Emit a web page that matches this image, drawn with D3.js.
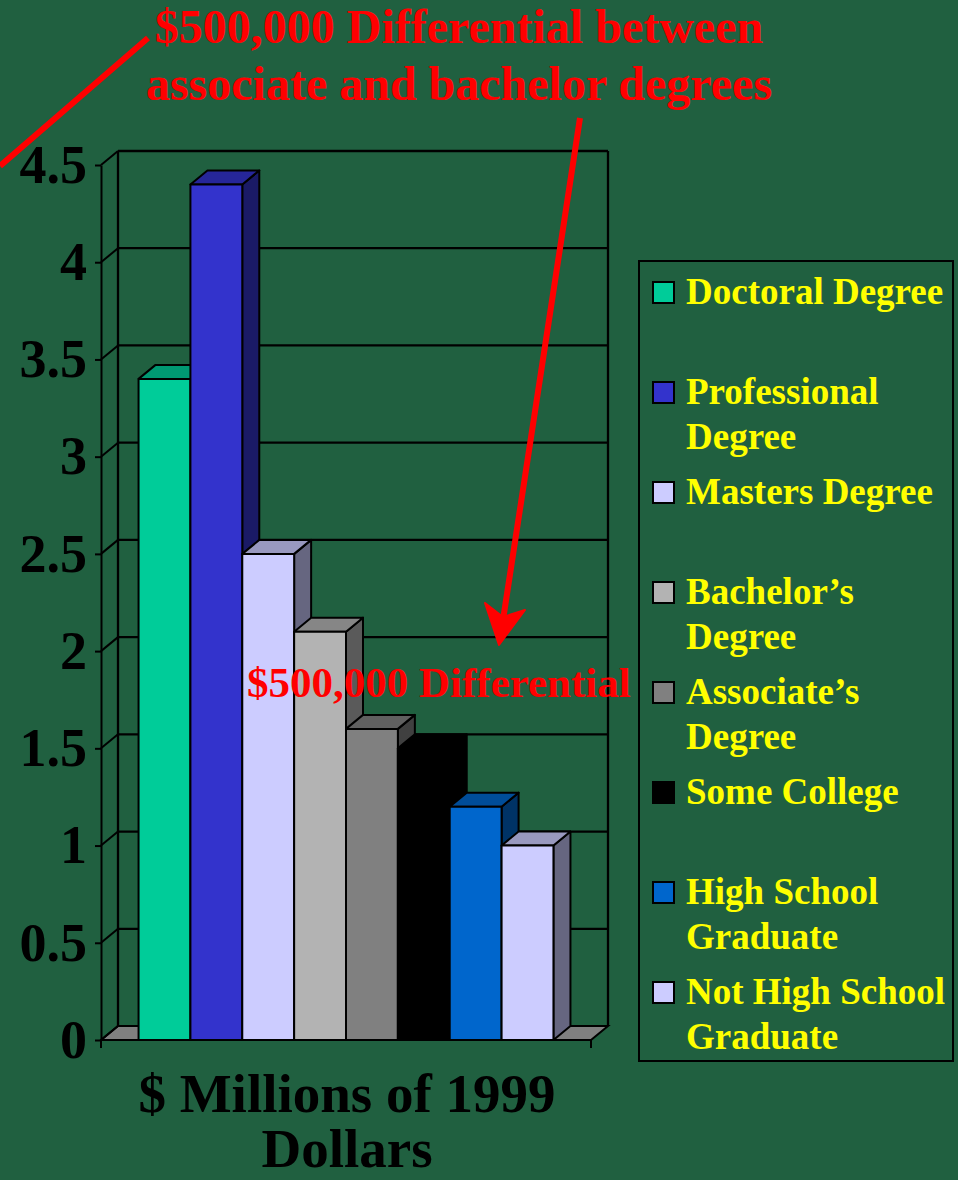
<!DOCTYPE html>
<html>
<head>
<meta charset="utf-8">
<script src="https://cdn.jsdelivr.net/npm/d3@7"></script>
<style>
  body { margin: 0; background: #206040; }
  svg { display: block; font-family: "Liberation Serif", "Times New Roman", serif; font-weight: bold; }
</style>
</head>
<body>
<svg id="chart" width="958" height="1180"></svg>
<script>
// data ($ millions of 1999 dollars)
var group = "$ Millions of 1999 Dollars";
var categories = ["Doctoral Degree", "Professional Degree", "Masters Degree", "Bachelor's Degree",
    "Associate's Degree", "Some College", "High School Graduate", "Not High School Graduate"];
var values = [3.4, 4.4, 2.5, 2.1, 1.6, 1.5, 1.2, 1.0];
var colors = ["#00cc99", "#3333cc", "#ccccff", "#b3b3b3", "#808080", "#000000", "#0066cc", "#ccccff"];
var legendLines = [["Doctoral Degree"], ["Professional", "Degree"], ["Masters Degree"], ["Bachelor\u2019s", "Degree"],
    ["Associate\u2019s", "Degree"], ["Some College"], ["High School", "Graduate"], ["Not High School", "Graduate"]];
var yTicks = [0, 0.5, 1, 1.5, 2, 2.5, 3, 3.5, 4, 4.5];
var titleLines = ["$500,000 Differential between", "associate and bachelor degrees"];
var axisTitle = ["$ Millions of 1999", "Dollars"];

var svg = d3.select("#chart");
var DX = 17, DY = 14; // depth of the 3d box

var y = d3.scaleLinear().domain([0, 4.5]).range([1040, 165]);
var x0 = d3.scaleBand().domain([group]).range([101, 591]).padding(0.083);
var x1 = d3.scaleBand().domain(categories).range([0, x0.bandwidth()]);

var left = x0.range()[0], right = x0.range()[1];
var base = y(0);

// floor
svg.append("path")
    .attr("d", "M" + left + "," + base + "L" + right + "," + base + "L" + (right + DX) + "," + (base - DY) +
        "L" + (left + DX) + "," + (base - DY) + "Z")
    .attr("fill", "#808080")
    .attr("stroke", "#000")
    .attr("stroke-width", 2);

// back wall gridlines
svg.selectAll(".grid")
    .data(yTicks.slice(1))
    .enter().append("line")
    .attr("class", "grid")
    .attr("x1", left + DX).attr("x2", right + DX)
    .attr("y1", function (d) { return y(d) - DY; })
    .attr("y2", function (d) { return y(d) - DY; })
    .attr("stroke", "#000").attr("stroke-width", 2.3);

// side wall diagonals
svg.selectAll(".diag")
    .data(yTicks)
    .enter().append("line")
    .attr("class", "diag")
    .attr("x1", left).attr("x2", left + DX)
    .attr("y1", function (d) { return y(d); })
    .attr("y2", function (d) { return y(d) - DY; })
    .attr("stroke", "#000").attr("stroke-width", 2);

// wall edges
[left + DX, right + DX].forEach(function (xx) {
    svg.append("line")
        .attr("x1", xx).attr("x2", xx)
        .attr("y1", y(4.5) - DY).attr("y2", base - DY)
        .attr("stroke", "#000").attr("stroke-width", 2.3);
});

// y axis
var yAxis = svg.append("g")
    .attr("transform", "translate(" + left + ",0)")
    .call(d3.axisLeft(y).tickValues(yTicks).tickSize(6).tickSizeOuter(0).tickPadding(8)
        .tickFormat(function (d) { return String(d); }));
yAxis.select(".domain").attr("stroke", "#000").attr("stroke-width", 2);
yAxis.selectAll(".tick line").attr("stroke", "#000").attr("stroke-width", 2);
yAxis.selectAll(".tick text")
    .attr("fill", "#000")
    .style("font-family", "Liberation Serif")
    .style("font-weight", "bold")
    .style("font-size", "54px");

// x axis end ticks
[left, right].forEach(function (xx) {
    svg.append("line")
        .attr("x1", xx).attr("x2", xx)
        .attr("y1", base).attr("y2", base + 8)
        .attr("stroke", "#000").attr("stroke-width", 2);
});
svg.append("line")
    .attr("x1", left).attr("x2", right)
    .attr("y1", base).attr("y2", base)
    .attr("stroke", "#000").attr("stroke-width", 2);

// bars
function shade(c, k) {
    var r = d3.rgb(c);
    return d3.rgb(r.r * k, r.g * k, r.b * k).formatHex();
}
var w = x1.bandwidth();
var bars = svg.selectAll(".bar")
    .data(categories)
    .enter().append("g")
    .attr("class", "bar");

bars.each(function (d, i) {
    var g = d3.select(this);
    var bx = x0(group) + x1(d), top = y(values[i]);
    g.append("path")
        .attr("d", "M" + (bx + w) + "," + top + "L" + (bx + w + DX) + "," + (top - DY) +
            "L" + (bx + w + DX) + "," + (base - DY) + "L" + (bx + w) + "," + base + "Z")
        .attr("fill", shade(colors[i], 0.5));
    g.append("path")
        .attr("d", "M" + bx + "," + top + "L" + (bx + w) + "," + top + "L" + (bx + w + DX) + "," + (top - DY) +
            "L" + (bx + DX) + "," + (top - DY) + "Z")
        .attr("fill", shade(colors[i], 0.75));
    g.append("rect")
        .attr("x", bx).attr("y", top)
        .attr("width", w).attr("height", base - top)
        .attr("fill", colors[i]);
    g.selectAll("path, rect")
        .attr("stroke", "#000").attr("stroke-width", 2).attr("stroke-linejoin", "round");
});

// axis title
svg.selectAll(".xtitle")
    .data(axisTitle)
    .enter().append("text")
    .attr("class", "xtitle")
    .attr("x", (left + right) / 2 + 1)
    .attr("y", function (d, i) { return 1112 + i * 55; })
    .attr("text-anchor", "middle")
    .attr("fill", "#000")
    .style("font-size", "55px")
    .text(function (d) { return d; });

// legend
svg.append("rect")
    .attr("x", 639).attr("y", 261)
    .attr("width", 314).attr("height", 800)
    .attr("fill", "none").attr("stroke", "#000").attr("stroke-width", 2);

var leg = svg.selectAll(".leg")
    .data(categories)
    .enter().append("g")
    .attr("class", "leg")
    .attr("transform", function (d, i) { return "translate(653," + (282 + i * 100) + ")"; });
leg.append("rect")
    .attr("width", 21).attr("height", 21)
    .attr("fill", function (d, i) { return colors[i]; })
    .attr("stroke", "#000").attr("stroke-width", 2);
leg.each(function (d, i) {
    d3.select(this).selectAll("text")
        .data(legendLines[i])
        .enter().append("text")
        .attr("x", 33)
        .attr("y", function (t, j) { return 22 + j * 45; })
        .attr("fill", "#ffff00")
        .style("font-size", "37px")
        .text(function (t) { return t; });
});

// red annotations
svg.selectAll(".title")
    .data(titleLines)
    .enter().append("text")
    .attr("class", "title")
    .attr("x", 459)
    .attr("y", function (d, i) { return 43 + i * 57; })
    .attr("text-anchor", "middle")
    .attr("fill", "#ff0000")
    .style("font-size", "48px")
    .text(function (d) { return d; });

svg.append("text")
    .attr("x", 247).attr("y", 697)
    .attr("fill", "#ff0000")
    .style("font-size", "43px")
    .text("$500,000 Differential");

svg.append("line")
    .attr("x1", 0).attr("y1", 166).attr("x2", 148).attr("y2", 38)
    .attr("stroke", "#ff0000").attr("stroke-width", 6);

svg.append("line")
    .attr("x1", 580).attr("y1", 118).attr("x2", 503).attr("y2", 620)
    .attr("stroke", "#ff0000").attr("stroke-width", 6);
svg.append("path")
    .attr("d", "M499,645L485,603L503,617L525,610Z")
    .attr("fill", "#ff0000")
    .attr("stroke", "#ff0000").attr("stroke-width", 2).attr("stroke-linejoin", "round");
</script>
</body>
</html>
